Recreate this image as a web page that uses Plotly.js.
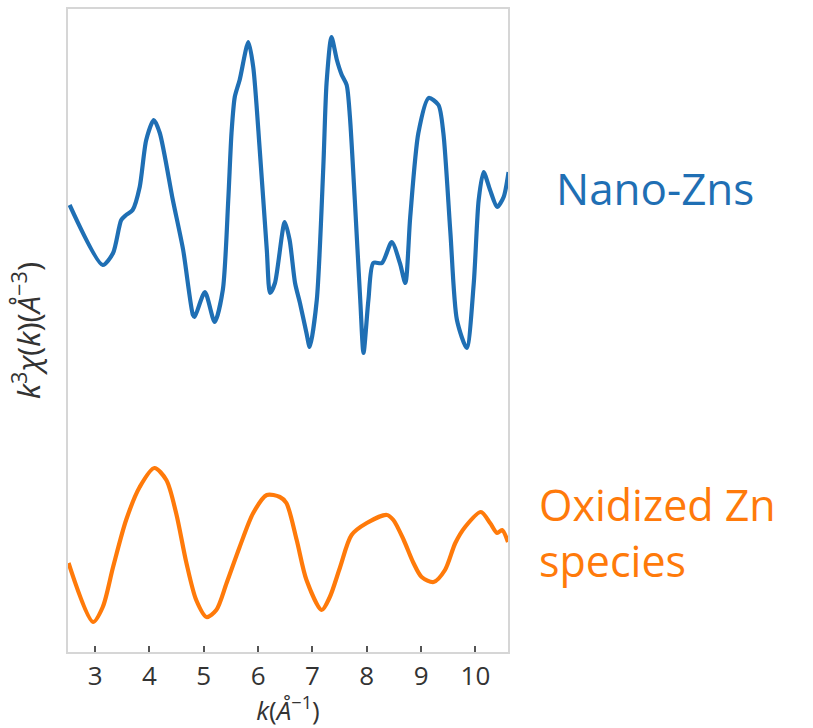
<!DOCTYPE html>
<html>
<head>
<meta charset="utf-8">
<script src="https://cdn.plot.ly/plotly-3.0.1.min.js"></script>
<style>html,body{margin:0;padding:0;background:#fff;}#chart{width:813px;height:728px;}</style>
</head>
<body>
<div id="chart"></div>
<script>
// k values (Å^-1) and offset k^3 chi(k) signals (arbitrary units, stacked)
const kNano = [2.53,3.14,3.33,3.48,3.57,3.69,3.82,3.94,4.08,4.19,4.43,4.62,4.80,4.83,5.02,5.20,5.35,5.45,5.51,5.57,5.66,5.82,5.91,6.03,6.16,6.22,6.31,6.49,6.58,6.68,6.77,6.89,6.95,7.08,7.20,7.26,7.35,7.45,7.54,7.63,7.69,7.78,7.88,7.94,8.03,8.12,8.28,8.46,8.61,8.71,8.80,8.95,9.14,9.32,9.41,9.54,9.66,9.84,9.97,10.06,10.15,10.27,10.40,10.52,10.61];
const yNano = [447,387,399,432,437,442,465,512,532,519,452,402,337,335,360,330,362,452,519,555,572,610,585,502,402,359,369,430,412,369,349,319,305,352,485,569,615,592,577,567,535,452,352,299,352,389,389,410,389,369,435,519,554,547,519,419,332,304,369,452,480,462,445,455,480];
const kOx = [2.51,2.96,3.14,3.33,3.57,3.82,4.09,4.31,4.49,4.68,4.86,5.05,5.23,5.42,5.66,5.91,6.16,6.40,6.52,6.71,6.89,7.17,7.32,7.51,7.72,8.00,8.37,8.49,8.68,8.86,9.01,9.23,9.44,9.63,9.81,10.10,10.27,10.40,10.49,10.60];
const yOx = [89,30,45,85,132,165,184,172,139,89,52,35,42,69,105,139,157,155,149,112,72,42,55,85,117,129,137,132,112,89,75,70,82,109,125,140,129,119,122,110];
const xTicks = [3,4,5,6,7,8,9,10];
const labels = ["Nano-Zns", "Oxidized Zn<br>species"];

const traces = [
  {x:kNano, y:yNano, mode:'lines', line:{color:'#1f6fb4', width:4.2, shape:'spline', smoothing:0.7}, hoverinfo:'skip'},
  {x:kOx, y:yOx, mode:'lines', line:{color:'#ff7a0a', width:4.2, shape:'spline', smoothing:0.8}, hoverinfo:'skip'}
];

const layout = {
  width:813, height:728,
  margin:{l:68, r:305, t:9, b:76},
  paper_bgcolor:'#fff', plot_bgcolor:'#fff',
  showlegend:false,
  font:{family:'"Open Sans", sans-serif', color:'#333'},
  xaxis:{
    range:[2.5,10.6], tickvals:xTicks, ticktext:xTicks.map(String),
    ticks:'inside', ticklen:6, tickwidth:2, tickcolor:'#555',
    showgrid:false, zeroline:false,
    showline:true, mirror:true, linecolor:'#d6d6d6', linewidth:2,
    tickfont:{size:26, color:'#333'},
    title:{text:'<i>k</i>(<i>Å</i><sup>−1</sup>)', font:{size:26, color:'#333'}, standoff:8}
  },
  yaxis:{
    range:[0,643], showticklabels:false, ticks:'',
    showgrid:false, zeroline:false,
    showline:true, mirror:true, linecolor:'#d6d6d6', linewidth:2,
    title:{text:'<i>k</i><sup>3</sup><i>χ</i>(<i>k</i>)(<i>Å</i><sup>−3</sup>)', font:{size:31, color:'#333'}, standoff:16}
  },
  annotations:[
    {xref:'paper', yref:'paper', x:1.105, y:(652-188)/643, text:labels[0], showarrow:false, xanchor:'left', yanchor:'middle', align:'left', font:{size:44, color:'#1f6fb4'}},
    {xref:'paper', yref:'paper', x:1.066, y:(652-532)/643, text:labels[1], showarrow:false, xanchor:'left', yanchor:'middle', align:'left', font:{size:43, color:'#ff7a0a'}}
  ]
};

Plotly.newPlot('chart', traces, layout, {displayModeBar:false, staticPlot:true});
</script>
</body>
</html>
